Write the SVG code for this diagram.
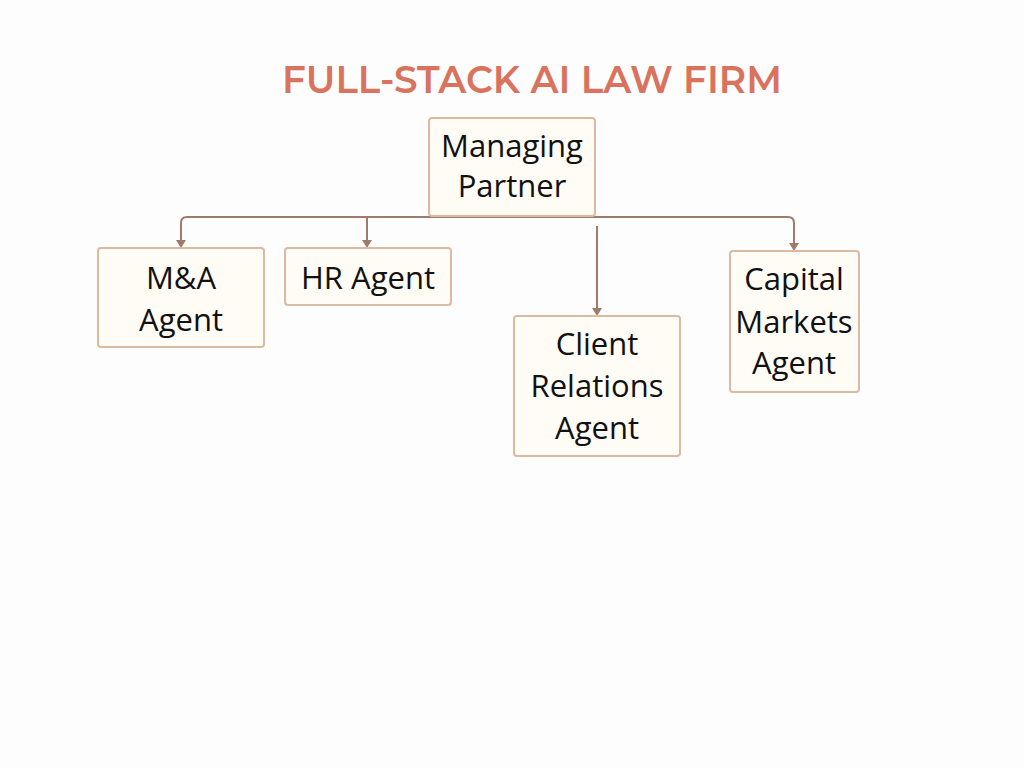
<svg xmlns="http://www.w3.org/2000/svg" width="1024" height="768" viewBox="0 0 1024 768">
<defs>
<style>
.box{fill:#fffbf5;stroke:#dcb9a1;stroke-width:2}
.lbl{font-family:"Open Sans","Noto Sans",sans-serif;font-size:31px;fill:#111;text-anchor:middle}
.title{font-family:"Montserrat","Open Sans","Noto Sans",sans-serif;font-size:38px;font-weight:600;fill:#d9735e;text-anchor:middle}
.conn{fill:none;stroke:#9e7b6b;stroke-width:2}
.head{fill:#9e7b6b}
</style>
</defs>
<rect width="1024" height="768" fill="#fdfdfd"/>
<text class="title" x="532" y="93" textLength="500" lengthAdjust="spacingAndGlyphs">FULL-STACK AI LAW FIRM</text>
<g id="connectors">
<path class="conn" d="M181,246 V223 Q181,217 187,217 H788 Q794,217 794,223 V249"/>
<path class="conn" d="M367,217 V246"/>
<path class="conn" d="M597,226 V314"/>
<path class="head" d="M176,240 L186,240 L181,248 Z"/>
<path class="head" d="M362,240 L372,240 L367,248 Z"/>
<path class="head" d="M592,308 L602,308 L597,316 Z"/>
<path class="head" d="M789,243 L799,243 L794,251 Z"/>
</g>
<g id="managing-partner">
<rect class="box" x="429" y="118" width="166" height="98" rx="3"/>
<text class="lbl" x="512" y="157">Managing</text>
<text class="lbl" x="512" y="197">Partner</text>
</g>
<g id="ma-agent">
<rect class="box" x="98" y="248" width="166" height="99" rx="3"/>
<text class="lbl" x="181" y="289">M&amp;A</text>
<text class="lbl" x="181" y="331">Agent</text>
</g>
<g id="hr-agent">
<rect class="box" x="285" y="248" width="166" height="57" rx="3"/>
<text class="lbl" x="368" y="289">HR Agent</text>
</g>
<g id="client-relations-agent">
<rect class="box" x="514" y="316" width="166" height="140" rx="3"/>
<text class="lbl" x="597" y="355">Client</text>
<text class="lbl" x="597" y="397">Relations</text>
<text class="lbl" x="597" y="439">Agent</text>
</g>
<g id="capital-markets-agent">
<rect class="box" x="730" y="251" width="129" height="141" rx="3"/>
<text class="lbl" x="794" y="290">Capital</text>
<text class="lbl" x="794" y="333">Markets</text>
<text class="lbl" x="794" y="374">Agent</text>
</g>
</svg>
